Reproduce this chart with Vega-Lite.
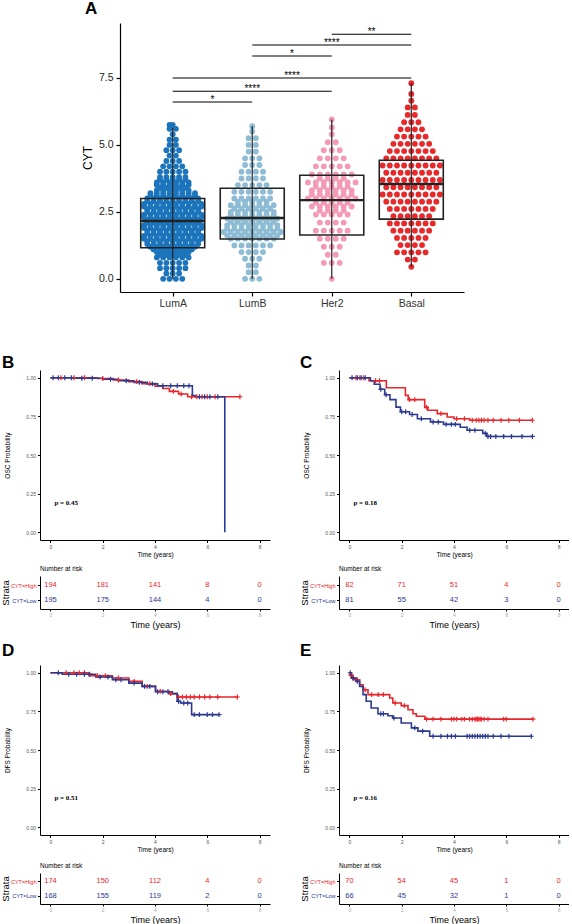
{
"$schema":"https://vega.github.io/schema/vega-lite/v6.json",
"background":"white",
"autosize":{"type":"pad"},
"padding":{"left":0,"top":0,"right":0,"bottom":0},
"config":{"view":{"stroke":null},"font":"Liberation Sans",
 "axis":{"grid":false,"domainColor":"#000","tickColor":"#000","titleColor":"#000","titleFontWeight":"normal","labelFont":"Liberation Sans","titleFont":"Liberation Sans"},
 "title":{"font":"Liberation Sans","color":"#000"}},
"datasets":{
"swarm":[
{"g":"LumA","y":0,"x":[0.88,0.96,1.04,1.12]},
{"g":"LumA","y":0.2,"x":[0.92,1,1.08]},
{"g":"LumA","y":0.4,"x":[0.84,0.92,1,1.08,1.16]},
{"g":"LumA","y":0.6,"x":[0.84,0.92,1,1.08,1.16]},
{"g":"LumA","y":0.8,"x":[0.8,0.88,0.96,1.04,1.12,1.2]},
{"g":"LumA","y":0.9,"x":[0.84,0.92,1,1.08,1.16]},
{"g":"LumA","y":1.0,"x":[0.8,0.88,0.96,1.04,1.12,1.2]},
{"g":"LumA","y":1.1,"x":[0.76,0.84,0.92,1,1.08,1.16,1.24]},
{"g":"LumA","y":1.2,"x":[0.72,0.8,0.88,0.96,1.04,1.12,1.2,1.28]},
{"g":"LumA","y":1.3,"x":[0.68,0.76,0.84,0.92,1,1.08,1.16,1.24,1.32]},
{"g":"LumA","y":1.4,"x":[0.68,0.76,0.84,0.92,1,1.08,1.16,1.24,1.32]},
{"g":"LumA","y":1.5,"x":[0.64,0.72,0.8,0.88,0.96,1.04,1.12,1.2,1.28,1.36]},
{"g":"LumA","y":1.6,"x":[0.64,0.72,0.8,0.88,0.96,1.04,1.12,1.2,1.28,1.36]},
{"g":"LumA","y":1.7,"x":[0.68,0.76,0.84,0.92,1,1.08,1.16,1.24,1.32]},
{"g":"LumA","y":1.8,"x":[0.68,0.76,0.84,0.92,1,1.08,1.16,1.24,1.32]},
{"g":"LumA","y":1.9,"x":[0.64,0.72,0.8,0.88,0.96,1.04,1.12,1.2,1.28,1.36]},
{"g":"LumA","y":2.0,"x":[0.64,0.72,0.8,0.88,0.96,1.04,1.12,1.2,1.28,1.36]},
{"g":"LumA","y":2.1,"x":[0.68,0.76,0.84,0.92,1,1.08,1.16,1.24,1.32]},
{"g":"LumA","y":2.2,"x":[0.68,0.76,0.84,0.92,1,1.08,1.16,1.24,1.32]},
{"g":"LumA","y":2.3,"x":[0.64,0.72,0.8,0.88,0.96,1.04,1.12,1.2,1.28,1.36]},
{"g":"LumA","y":2.4,"x":[0.64,0.72,0.8,0.88,0.96,1.04,1.12,1.2,1.28,1.36]},
{"g":"LumA","y":2.5,"x":[0.68,0.76,0.84,0.92,1,1.08,1.16,1.24,1.32]},
{"g":"LumA","y":2.6,"x":[0.68,0.76,0.84,0.92,1,1.08,1.16,1.24,1.32]},
{"g":"LumA","y":2.7,"x":[0.64,0.72,0.8,0.88,0.96,1.04,1.12,1.2,1.28,1.36]},
{"g":"LumA","y":2.8,"x":[0.64,0.72,0.8,0.88,0.96,1.04,1.12,1.2,1.28,1.36]},
{"g":"LumA","y":2.9,"x":[0.68,0.76,0.84,0.92,1,1.08,1.16,1.24,1.32]},
{"g":"LumA","y":3.0,"x":[0.68,0.76,0.84,0.92,1,1.08,1.16,1.24,1.32]},
{"g":"LumA","y":3.1,"x":[0.72,0.8,0.88,0.96,1.04,1.12,1.2,1.28]},
{"g":"LumA","y":3.2,"x":[0.72,0.8,0.88,0.96,1.04,1.12,1.2,1.28]},
{"g":"LumA","y":3.3,"x":[0.8,0.88,0.96,1.04,1.12,1.2]},
{"g":"LumA","y":3.4,"x":[0.84,0.92,1,1.08,1.16]},
{"g":"LumA","y":3.5,"x":[0.8,0.88,0.96,1.04,1.12,1.2]},
{"g":"LumA","y":3.6,"x":[0.8,0.88,0.96,1.04,1.12,1.2]},
{"g":"LumA","y":3.7,"x":[0.84,0.92,1,1.08,1.16]},
{"g":"LumA","y":3.8,"x":[0.84,0.92,1,1.08,1.16]},
{"g":"LumA","y":4.0,"x":[0.84,0.92,1,1.08,1.16]},
{"g":"LumA","y":4.2,"x":[0.88,0.96,1.04,1.12]},
{"g":"LumA","y":4.4,"x":[0.92,1,1.08]},
{"g":"LumA","y":4.6,"x":[0.96,1.04]},
{"g":"LumA","y":4.8,"x":[0.92,1,1.08]},
{"g":"LumA","y":5.0,"x":[0.96,1.04]},
{"g":"LumA","y":5.2,"x":[0.96,1.04]},
{"g":"LumA","y":5.4,"x":[1]},
{"g":"LumA","y":5.6,"x":[0.96,1.04]},
{"g":"LumA","y":5.75,"x":[0.96,1.0]},
{"g":"LumB","y":0,"x":[1.91,2,2.09]},
{"g":"LumB","y":0.25,"x":[1.955,2.045]},
{"g":"LumB","y":0.5,"x":[1.955,2.045]},
{"g":"LumB","y":0.75,"x":[1.91,2,2.09]},
{"g":"LumB","y":1.0,"x":[1.865,1.955,2.045,2.135]},
{"g":"LumB","y":1.25,"x":[1.775,1.865,1.955,2.045,2.135,2.225]},
{"g":"LumB","y":1.5,"x":[1.73,1.82,1.91,2,2.09,2.18,2.27]},
{"g":"LumB","y":1.625,"x":[1.685,1.775,1.865,1.955,2.045,2.135,2.225,2.315]},
{"g":"LumB","y":1.75,"x":[1.64,1.73,1.82,1.91,2,2.09,2.18,2.27,2.36]},
{"g":"LumB","y":1.875,"x":[1.685,1.775,1.865,1.955,2.045,2.135,2.225,2.315]},
{"g":"LumB","y":2.0,"x":[1.685,1.775,1.865,1.955,2.045,2.135,2.225,2.315]},
{"g":"LumB","y":2.125,"x":[1.73,1.82,1.91,2,2.09,2.18,2.27]},
{"g":"LumB","y":2.25,"x":[1.685,1.775,1.865,1.955,2.045,2.135,2.225,2.315]},
{"g":"LumB","y":2.375,"x":[1.73,1.82,1.91,2,2.09,2.18,2.27]},
{"g":"LumB","y":2.5,"x":[1.73,1.82,1.91,2,2.09,2.18,2.27]},
{"g":"LumB","y":2.625,"x":[1.775,1.865,1.955,2.045,2.135,2.225]},
{"g":"LumB","y":2.75,"x":[1.73,1.82,1.91,2,2.09,2.18,2.27]},
{"g":"LumB","y":2.875,"x":[1.82,1.91,2,2.09,2.18]},
{"g":"LumB","y":3.0,"x":[1.775,1.865,1.955,2.045,2.135,2.225]},
{"g":"LumB","y":3.25,"x":[1.775,1.865,1.955,2.045,2.135,2.225]},
{"g":"LumB","y":3.5,"x":[1.82,1.91,2,2.09,2.18]},
{"g":"LumB","y":3.75,"x":[1.865,1.955,2.045,2.135]},
{"g":"LumB","y":4.0,"x":[1.865,1.955,2.045,2.135]},
{"g":"LumB","y":4.25,"x":[1.91,2,2.09]},
{"g":"LumB","y":4.5,"x":[1.91,2,2.09]},
{"g":"LumB","y":4.75,"x":[1.955,2.045]},
{"g":"LumB","y":5.0,"x":[1.955,2.045]},
{"g":"LumB","y":5.25,"x":[1.955,2.045]},
{"g":"LumB","y":5.5,"x":[2]},
{"g":"LumB","y":5.7,"x":[2]},
{"g":"Her2","y":0,"x":[3]},
{"g":"Her2","y":0.6,"x":[2.9,3,3.1]},
{"g":"Her2","y":0.9,"x":[2.95,3.05]},
{"g":"Her2","y":1.2,"x":[2.9,3,3.1]},
{"g":"Her2","y":1.5,"x":[2.85,2.95,3.05,3.15]},
{"g":"Her2","y":1.8,"x":[2.8,2.9,3,3.1,3.2]},
{"g":"Her2","y":2.1,"x":[2.85,2.95,3.05,3.15]},
{"g":"Her2","y":2.4,"x":[2.8,2.9,3,3.1,3.2]},
{"g":"Her2","y":2.55,"x":[2.85,2.95,3.05,3.15]},
{"g":"Her2","y":2.7,"x":[2.75,2.85,2.95,3.05,3.15,3.25]},
{"g":"Her2","y":2.85,"x":[2.8,2.9,3,3.1,3.2]},
{"g":"Her2","y":3.0,"x":[2.7,2.8,2.9,3,3.1,3.2,3.3]},
{"g":"Her2","y":3.15,"x":[2.75,2.85,2.95,3.05,3.15,3.25]},
{"g":"Her2","y":3.3,"x":[2.75,2.85,2.95,3.05,3.15,3.25]},
{"g":"Her2","y":3.45,"x":[2.8,2.9,3,3.1,3.2]},
{"g":"Her2","y":3.6,"x":[2.7,2.8,2.9,3,3.1,3.2,3.3]},
{"g":"Her2","y":3.75,"x":[2.85,2.95,3.05,3.15]},
{"g":"Her2","y":3.9,"x":[2.75,2.85,2.95,3.05,3.15,3.25]},
{"g":"Her2","y":4.2,"x":[2.8,2.9,3,3.1,3.2]},
{"g":"Her2","y":4.5,"x":[2.85,2.95,3.05,3.15]},
{"g":"Her2","y":4.8,"x":[2.9,3,3.1]},
{"g":"Her2","y":5.1,"x":[2.95,3.05]},
{"g":"Her2","y":5.4,"x":[3]},
{"g":"Her2","y":5.65,"x":[3]},
{"g":"Her2","y":5.95,"x":[3]},
{"g":"Basal","y":0.45,"x":[4]},
{"g":"Basal","y":0.72,"x":[3.955,4.045]},
{"g":"Basal","y":0.99,"x":[3.82,3.91,4,4.09,4.18]},
{"g":"Basal","y":1.26,"x":[3.865,3.955,4.045,4.135]},
{"g":"Basal","y":1.53,"x":[3.82,3.91,4,4.09,4.18]},
{"g":"Basal","y":1.8,"x":[3.775,3.865,3.955,4.045,4.135,4.225]},
{"g":"Basal","y":2.07,"x":[3.73,3.82,3.91,4,4.09,4.18,4.27]},
{"g":"Basal","y":2.34,"x":[3.775,3.865,3.955,4.045,4.135,4.225]},
{"g":"Basal","y":2.61,"x":[3.73,3.82,3.91,4,4.09,4.18,4.27]},
{"g":"Basal","y":2.88,"x":[3.685,3.775,3.865,3.955,4.045,4.135,4.225,4.315]},
{"g":"Basal","y":3.15,"x":[3.64,3.73,3.82,3.91,4,4.09,4.18,4.27,4.36]},
{"g":"Basal","y":3.42,"x":[3.685,3.775,3.865,3.955,4.045,4.135,4.225,4.315]},
{"g":"Basal","y":3.69,"x":[3.64,3.73,3.82,3.91,4,4.09,4.18,4.27,4.36]},
{"g":"Basal","y":3.96,"x":[3.685,3.775,3.865,3.955,4.045,4.135,4.225,4.315]},
{"g":"Basal","y":4.23,"x":[3.64,3.73,3.82,3.91,4,4.09,4.18,4.27,4.36]},
{"g":"Basal","y":4.5,"x":[3.685,3.775,3.865,3.955,4.045,4.135,4.225,4.315]},
{"g":"Basal","y":4.77,"x":[3.73,3.82,3.91,4,4.09,4.18,4.27]},
{"g":"Basal","y":5.04,"x":[3.775,3.865,3.955,4.045,4.135,4.225]},
{"g":"Basal","y":5.31,"x":[3.82,3.91,4,4.09,4.18]},
{"g":"Basal","y":5.58,"x":[3.865,3.955,4.045,4.135]},
{"g":"Basal","y":5.85,"x":[3.91,4,4.09]},
{"g":"Basal","y":6.12,"x":[3.955,4.045]},
{"g":"Basal","y":6.4,"x":[3.955,4.045]},
{"g":"Basal","y":6.65,"x":[4]},
{"g":"Basal","y":6.9,"x":[4]},
{"g":"Basal","y":7.3,"x":[4]}
],
"box":[
{"g":"LumA","i":1,"lo":0,"q1":1.16,"med":2.16,"q3":3.0,"hi":5.65},
{"g":"LumB","i":2,"lo":0,"q1":1.49,"med":2.27,"q3":3.38,"hi":5.7},
{"g":"Her2","i":3,"lo":0,"q1":1.64,"med":2.94,"q3":3.87,"hi":5.95},
{"g":"Basal","i":4,"lo":0.45,"q1":2.23,"med":3.54,"q3":4.43,"hi":7.3}
],
"sig":[
{"x1":1,"x2":2,"xm":1.5,"y":6.6,"lab":"*"},
{"x1":1,"x2":3,"xm":2,"y":7.0,"lab":"****"},
{"x1":1,"x2":4,"xm":2.5,"y":7.5,"lab":"****"},
{"x1":2,"x2":3,"xm":2.5,"y":8.32,"lab":"*"},
{"x1":2,"x2":4,"xm":3,"y":8.73,"lab":"****"},
{"x1":3,"x2":4,"xm":3.5,"y":9.13,"lab":"**"}
],
"surv":[
{"p":"B","s":"High","t":[0,1.8,2.4,3.0,3.5,4.0,4.3,4.55,4.9,5.25,7.25],"v":[1,0.995,0.985,0.975,0.962,0.945,0.93,0.912,0.895,0.877,0.877]},
{"p":"B","s":"Low","t":[0,1.0,2.0,2.6,3.2,3.7,4.1,5.43,5.55,6.67],"v":[1,0.997,0.99,0.98,0.97,0.96,0.948,0.885,0.877,0]},
{"p":"C","s":"High","t":[0,0.75,1.41,2.14,2.25,2.88,3.0,3.36,3.74,4.0,4.6,7.0],"v":[1,0.98,0.935,0.886,0.858,0.808,0.79,0.768,0.746,0.735,0.725,0.725]},
{"p":"C","s":"Low","t":[0,0.8,0.95,1.17,1.35,1.55,1.78,1.95,2.3,2.6,3.1,3.6,4.24,4.5,5.1,5.25,7.0],"v":[1,0.98,0.958,0.925,0.89,0.858,0.81,0.78,0.762,0.735,0.714,0.698,0.68,0.66,0.64,0.62,0.62]},
{"p":"D","s":"High","t":[0,1.47,2.37,3.0,3.51,4.02,4.53,4.85,7.15],"v":[1,0.98,0.966,0.944,0.912,0.88,0.865,0.843,0.843]},
{"p":"D","s":"Low","t":[0,0.45,1.73,2.37,3.0,3.51,4.02,4.66,4.85,4.98,5.4,6.45],"v":[1,0.99,0.972,0.955,0.933,0.912,0.877,0.865,0.815,0.804,0.729,0.729]},
{"p":"E","s":"High","t":[0,0.03,0.13,0.39,0.52,0.71,1.54,1.66,1.98,2.24,2.43,2.56,2.88,7.02],"v":[1,0.985,0.955,0.922,0.89,0.858,0.836,0.804,0.787,0.76,0.735,0.718,0.7,0.7]},
{"p":"E","s":"Low","t":[0,0.07,0.26,0.39,0.52,0.64,0.83,1.09,1.47,1.66,1.98,2.37,2.62,3.07,6.96],"v":[1,0.965,0.944,0.912,0.858,0.815,0.772,0.735,0.722,0.707,0.675,0.643,0.622,0.589,0.589]}
],
"cens":[
{"p":"B","s":"High","t":[0.4,0.9,1.3,2.0,2.6,3.3,3.8,4.7,5.0,5.4,5.6,5.8,6.0,6.3,7.25],"v":[1,1,1,0.995,0.985,0.975,0.962,0.912,0.895,0.877,0.877,0.877,0.877,0.877,0.877]},
{"p":"B","s":"Low","t":[0.1,0.3,0.55,0.8,1.2,1.6,2.3,2.9,3.4,3.9,4.3,4.6,4.85,5.1,5.3,5.7,5.9,6.1,6.4],"v":[1,1,1,1,0.997,0.997,0.99,0.98,0.97,0.96,0.948,0.948,0.948,0.948,0.948,0.877,0.877,0.877,0.877]},
{"p":"C","s":"High","t":[0.25,0.4,0.55,1.0,1.15,2.3,2.5,2.95,3.5,4.1,4.4,4.7,4.85,4.95,5.05,5.15,5.3,5.5,5.8,6.1,6.5,7.0],"v":[1,1,1,0.98,0.98,0.858,0.858,0.808,0.768,0.735,0.735,0.725,0.725,0.725,0.725,0.725,0.725,0.725,0.725,0.725,0.725,0.725]},
{"p":"C","s":"Low","t":[0.1,0.3,0.45,0.6,1.2,1.4,2.0,2.15,2.4,2.75,3.2,3.4,3.7,3.9,4.05,4.6,4.8,5.2,5.3,5.4,5.6,5.9,6.2,6.6,7.0],"v":[1,1,1,1,0.925,0.89,0.78,0.78,0.762,0.735,0.714,0.714,0.698,0.698,0.698,0.66,0.66,0.64,0.62,0.62,0.62,0.62,0.62,0.62,0.62]},
{"p":"D","s":"High","t":[0.6,0.9,1.1,1.3,1.8,2.1,2.6,3.2,3.7,4.2,4.6,4.9,5.05,5.2,5.35,5.5,5.7,5.9,6.1,6.4,7.15],"v":[1,1,1,1,0.98,0.98,0.966,0.944,0.912,0.88,0.865,0.843,0.843,0.843,0.843,0.843,0.843,0.843,0.843,0.843,0.843]},
{"p":"D","s":"Low","t":[0.3,0.7,1.0,1.3,1.5,1.9,2.2,2.5,2.7,3.2,3.6,3.8,4.1,4.3,4.5,4.9,5.1,5.25,5.5,5.7,6.0,6.2,6.45],"v":[1,0.99,0.99,0.99,0.99,0.972,0.972,0.955,0.955,0.933,0.912,0.912,0.877,0.877,0.877,0.815,0.804,0.804,0.729,0.729,0.729,0.729,0.729]},
{"p":"E","s":"High","t":[0.05,0.3,0.6,0.85,1.1,1.3,1.75,2.1,2.95,3.2,3.5,3.9,4.0,4.1,4.3,4.4,4.6,4.7,4.8,4.85,4.9,4.95,5.0,5.05,5.15,5.3,5.9,6.0,7.02],"v":[0.985,0.955,0.89,0.858,0.858,0.858,0.804,0.787,0.7,0.7,0.7,0.7,0.7,0.7,0.7,0.7,0.7,0.7,0.7,0.7,0.7,0.7,0.7,0.7,0.7,0.7,0.7,0.7,0.7]},
{"p":"E","s":"Low","t":[0.03,0.15,0.3,1.2,1.3,1.7,2.5,2.8,3.2,3.5,3.75,3.9,4.05,4.5,4.6,4.7,4.8,4.9,5.0,5.1,5.2,5.3,5.5,5.8,6.1,6.96],"v":[1,0.965,0.944,0.735,0.735,0.707,0.643,0.622,0.589,0.589,0.589,0.589,0.589,0.589,0.589,0.589,0.589,0.589,0.589,0.589,0.589,0.589,0.589,0.589,0.589,0.589]}
],
"risk":[
{"p":"B","s":"CYT=High","t":[0,2,4,6,8],"n":[194,181,141,8,0]},
{"p":"B","s":"CYT=Low","t":[0,2,4,6,8],"n":[195,175,144,4,0]},
{"p":"C","s":"CYT=High","t":[0,2,4,6,8],"n":[82,71,51,4,0]},
{"p":"C","s":"CYT=Low","t":[0,2,4,6,8],"n":[81,55,42,3,0]},
{"p":"D","s":"CYT=High","t":[0,2,4,6,8],"n":[174,150,112,4,0]},
{"p":"D","s":"CYT=Low","t":[0,2,4,6,8],"n":[168,155,119,2,0]},
{"p":"E","s":"CYT=High","t":[0,2,4,6,8],"n":[70,54,45,1,0]},
{"p":"E","s":"CYT=Low","t":[0,2,4,6,8],"n":[66,45,32,1,0]}
]
},
"vconcat":[
{"hconcat":[
 {"width":41,"height":10,"data":{"values":[{}]},"mark":{"type":"text","text":""}},
 {"width":344,"height":269,
  "title":{"text":"A","anchor":"start","frame":"group","dx":-35,"offset":5,"fontSize":17,"fontWeight":"bold"},
  "layer":[
   {"data":{"name":"swarm"},"transform":[{"flatten":["x"]}],
    "mark":{"type":"circle","size":34,"opacity":1},
    "encoding":{
     "x":{"field":"x","type":"quantitative","scale":{"domain":[0.4,4.6],"nice":false,"zero":false},
      "axis":{"values":[1,2,3,4],"labelExpr":"['','LumA','LumB','Her2','Basal'][datum.value]","title":null,"labelFontSize":10.5,"labelColor":"#333","tickSize":4,"labelPadding":2,"domainWidth":1.2,"tickWidth":1.2}},
     "y":{"field":"y","type":"quantitative","scale":{"domain":[-0.49,9.55],"nice":false,"zero":false},
      "axis":{"values":[0,2.5,5,7.5],"format":".1f","title":"CYT","titleFontSize":12,"titlePadding":4,"labelFontSize":10.5,"labelColor":"#222","tickSize":4,"labelPadding":3,"domainWidth":1.2,"tickWidth":1.2}},
     "color":{"field":"g","type":"nominal","scale":{"domain":["LumA","LumB","Her2","Basal"],"range":["#1c75bc","#8dbcd4","#f59ab5","#e8292b"]},"legend":null}}},
   {"data":{"name":"box"},"mark":{"type":"rule","color":"#222","strokeWidth":1.2},
    "encoding":{"x":{"field":"i","type":"quantitative"},"y":{"field":"lo","type":"quantitative"},"y2":{"field":"hi"}}},
   {"data":{"name":"box"},"mark":{"type":"bar","width":64,"fillOpacity":0,"stroke":"#222","strokeWidth":1.6},
    "encoding":{"x":{"field":"i","type":"quantitative"},"y":{"field":"q1","type":"quantitative"},"y2":{"field":"q3"}}},
   {"data":{"name":"box"},"mark":{"type":"tick","orient":"horizontal","size":64,"thickness":2.4,"color":"#222","opacity":1},
    "encoding":{"x":{"field":"i","type":"quantitative"},"y":{"field":"med","type":"quantitative"}}},
   {"data":{"name":"sig"},"mark":{"type":"rule","color":"#000","strokeWidth":1.1},
    "encoding":{"x":{"field":"x1","type":"quantitative"},"x2":{"field":"x2"},"y":{"field":"y","type":"quantitative"}}},
   {"data":{"name":"sig"},"mark":{"type":"text","fontSize":10,"baseline":"alphabetic","dy":1,"color":"#000"},
    "encoding":{"x":{"field":"xm","type":"quantitative"},"y":{"field":"y","type":"quantitative"},"text":{"field":"lab"}}}
  ]}
 ],"spacing":0},
{"hconcat":[
 {"vconcat":[
  {"vconcat":[
   {"width":230,"height":170,
    "title":{"text":"B","anchor":"start","frame":"group","dx":-38,"dy":5,"offset":3,"fontSize":17,"fontWeight":"bold"},
    "layer":[
     {"data":{"name":"surv"},"transform":[{"filter":"datum.p=='B'"},{"flatten":["t","v"]}],
      "mark":{"type":"line","interpolate":"step-after","strokeWidth":1.6},
      "encoding":{
       "x":{"field":"t","type":"quantitative","scale":{"domain":[-0.4,8.4],"nice":false,"zero":false},"axis":{"values":[0,2,4,6,8],"title":"Time (years)","titleFontSize":6.5,"titlePadding":2,"labelFontSize":5,"labelColor":"#555","labelPadding":2,"tickSize":2.5}},
       "y":{"field":"v","type":"quantitative","scale":{"domain":[-0.05,1.05],"nice":false,"zero":false},"axis":{"values":[0,0.25,0.5,0.75,1],"format":".2f","title":"OSC Probability","titleFontSize":6.5,"titlePadding":15,"labelFontSize":5,"labelColor":"#555","labelPadding":2,"tickSize":2.5}},
       "detail":{"field":"s"},
       "color":{"condition":{"test":"datum.s=='High'","value":"#e8262b"},"value":"#2b3990"}}},
     {"data":{"name":"cens"},"transform":[{"filter":"datum.p=='B'"},{"flatten":["t","v"]}],
      "mark":{"type":"point","shape":"M-1,0H1M0,-1V1","size":24,"strokeWidth":1.2,"filled":false,"opacity":1},
      "encoding":{"x":{"field":"t","type":"quantitative"},"y":{"field":"v","type":"quantitative"},
       "color":{"condition":{"test":"datum.s=='High'","value":"#e8262b"},"value":"#2b3990"}}},
     {"data":{"values":[{}]},"mark":{"type":"text","text":"p = 0.45","align":"left","baseline":"middle","font":"Liberation Serif","fontWeight":"bold","fontSize":7},
      "encoding":{"x":{"datum":0.15},"y":{"datum":0.19}}}
    ]},
   {"width":230,"height":33,
    "title":{"text":"Number at risk","anchor":"start","frame":"group","offset":4,"fontSize":6.5,"fontWeight":"normal"},
    "data":{"name":"risk"},"transform":[{"filter":"datum.p=='B'"},{"flatten":["t","n"]}],
    "mark":{"type":"text","fontSize":7.5},
    "encoding":{
     "x":{"field":"t","type":"quantitative","scale":{"domain":[-0.4,8.4],"nice":false,"zero":false},"axis":{"values":[0,2,4,6,8],"title":"Time (years)","titleFontSize":9,"titlePadding":3,"labelFontSize":5,"labelColor":"#aaa","labelPadding":1,"tickSize":2}},
     "y":{"field":"s","type":"nominal","sort":["CYT=High","CYT=Low"],"scale":{"type":"point","padding":0.6},"axis":{"title":"Strata","titleFontSize":9.5,"titlePadding":0,"labelFontSize":5.5,"labelPadding":1.5,"tickSize":2.5,"labelColor":{"condition":{"test":"datum.value=='CYT=High'","value":"#e8262b"},"value":"#2b3990"}}},
     "text":{"field":"n","type":"quantitative"},
     "color":{"condition":{"test":"datum.s=='CYT=High'","value":"#e8262b"},"value":"#2b3990"}}}
  ],"spacing":7},
  {"vconcat":[
   {"width":230,"height":170,
    "title":{"text":"D","anchor":"start","frame":"group","dx":-38,"offset":5,"fontSize":17,"fontWeight":"bold"},
    "layer":[
     {"data":{"name":"surv"},"transform":[{"filter":"datum.p=='D'"},{"flatten":["t","v"]}],
      "mark":{"type":"line","interpolate":"step-after","strokeWidth":1.6},
      "encoding":{
       "x":{"field":"t","type":"quantitative","scale":{"domain":[-0.4,8.4],"nice":false,"zero":false},"axis":{"values":[0,2,4,6,8],"title":"Time (years)","titleFontSize":6.5,"titlePadding":2,"labelFontSize":5,"labelColor":"#555","labelPadding":2,"tickSize":2.5}},
       "y":{"field":"v","type":"quantitative","scale":{"domain":[-0.05,1.05],"nice":false,"zero":false},"axis":{"values":[0,0.25,0.5,0.75,1],"format":".2f","title":"DFS Probability","titleFontSize":6.5,"titlePadding":15,"labelFontSize":5,"labelColor":"#555","labelPadding":2,"tickSize":2.5}},
       "detail":{"field":"s"},
       "color":{"condition":{"test":"datum.s=='High'","value":"#e8262b"},"value":"#2b3990"}}},
     {"data":{"name":"cens"},"transform":[{"filter":"datum.p=='D'"},{"flatten":["t","v"]}],
      "mark":{"type":"point","shape":"M-1,0H1M0,-1V1","size":24,"strokeWidth":1.2,"filled":false,"opacity":1},
      "encoding":{"x":{"field":"t","type":"quantitative"},"y":{"field":"v","type":"quantitative"},
       "color":{"condition":{"test":"datum.s=='High'","value":"#e8262b"},"value":"#2b3990"}}},
     {"data":{"values":[{}]},"mark":{"type":"text","text":"p = 0.51","align":"left","baseline":"middle","font":"Liberation Serif","fontWeight":"bold","fontSize":7},
      "encoding":{"x":{"datum":0.15},"y":{"datum":0.19}}}
    ]},
   {"width":230,"height":31,
    "title":{"text":"Number at risk","anchor":"start","frame":"group","offset":4,"fontSize":6.5,"fontWeight":"normal"},
    "data":{"name":"risk"},"transform":[{"filter":"datum.p=='D'"},{"flatten":["t","n"]}],
    "mark":{"type":"text","fontSize":7.5},
    "encoding":{
     "x":{"field":"t","type":"quantitative","scale":{"domain":[-0.4,8.4],"nice":false,"zero":false},"axis":{"values":[0,2,4,6,8],"title":"Time (years)","titleFontSize":9,"titlePadding":3,"labelFontSize":5,"labelColor":"#aaa","labelPadding":1,"tickSize":2}},
     "y":{"field":"s","type":"nominal","sort":["CYT=High","CYT=Low"],"scale":{"type":"point","padding":0.6},"axis":{"title":"Strata","titleFontSize":9.5,"titlePadding":0,"labelFontSize":5.5,"labelPadding":1.5,"tickSize":2.5,"labelColor":{"condition":{"test":"datum.value=='CYT=High'","value":"#e8262b"},"value":"#2b3990"}}},
     "text":{"field":"n","type":"quantitative"},
     "color":{"condition":{"test":"datum.s=='CYT=High'","value":"#e8262b"},"value":"#2b3990"}}}
  ],"spacing":9}
 ],"spacing":13},
 {"vconcat":[
  {"vconcat":[
   {"width":230,"height":170,
    "title":{"text":"C","anchor":"start","frame":"group","dx":-39,"dy":5,"offset":3,"fontSize":17,"fontWeight":"bold"},
    "layer":[
     {"data":{"name":"surv"},"transform":[{"filter":"datum.p=='C'"},{"flatten":["t","v"]}],
      "mark":{"type":"line","interpolate":"step-after","strokeWidth":1.6},
      "encoding":{
       "x":{"field":"t","type":"quantitative","scale":{"domain":[-0.4,8.4],"nice":false,"zero":false},"axis":{"values":[0,2,4,6,8],"title":"Time (years)","titleFontSize":6.5,"titlePadding":2,"labelFontSize":5,"labelColor":"#555","labelPadding":2,"tickSize":2.5}},
       "y":{"field":"v","type":"quantitative","scale":{"domain":[-0.05,1.05],"nice":false,"zero":false},"axis":{"values":[0,0.25,0.5,0.75,1],"format":".2f","title":"OSC Probability","titleFontSize":6.5,"titlePadding":15,"labelFontSize":5,"labelColor":"#555","labelPadding":2,"tickSize":2.5}},
       "detail":{"field":"s"},
       "color":{"condition":{"test":"datum.s=='High'","value":"#e8262b"},"value":"#2b3990"}}},
     {"data":{"name":"cens"},"transform":[{"filter":"datum.p=='C'"},{"flatten":["t","v"]}],
      "mark":{"type":"point","shape":"M-1,0H1M0,-1V1","size":24,"strokeWidth":1.2,"filled":false,"opacity":1},
      "encoding":{"x":{"field":"t","type":"quantitative"},"y":{"field":"v","type":"quantitative"},
       "color":{"condition":{"test":"datum.s=='High'","value":"#e8262b"},"value":"#2b3990"}}},
     {"data":{"values":[{}]},"mark":{"type":"text","text":"p = 0.18","align":"left","baseline":"middle","font":"Liberation Serif","fontWeight":"bold","fontSize":7},
      "encoding":{"x":{"datum":0.15},"y":{"datum":0.19}}}
    ]},
   {"width":230,"height":33,
    "title":{"text":"Number at risk","anchor":"start","frame":"group","offset":4,"fontSize":6.5,"fontWeight":"normal"},
    "data":{"name":"risk"},"transform":[{"filter":"datum.p=='C'"},{"flatten":["t","n"]}],
    "mark":{"type":"text","fontSize":7.5},
    "encoding":{
     "x":{"field":"t","type":"quantitative","scale":{"domain":[-0.4,8.4],"nice":false,"zero":false},"axis":{"values":[0,2,4,6,8],"title":"Time (years)","titleFontSize":9,"titlePadding":3,"labelFontSize":5,"labelColor":"#aaa","labelPadding":1,"tickSize":2}},
     "y":{"field":"s","type":"nominal","sort":["CYT=High","CYT=Low"],"scale":{"type":"point","padding":0.6},"axis":{"title":"Strata","titleFontSize":9.5,"titlePadding":0,"labelFontSize":5.5,"labelPadding":1.5,"tickSize":2.5,"labelColor":{"condition":{"test":"datum.value=='CYT=High'","value":"#e8262b"},"value":"#2b3990"}}},
     "text":{"field":"n","type":"quantitative"},
     "color":{"condition":{"test":"datum.s=='CYT=High'","value":"#e8262b"},"value":"#2b3990"}}}
  ],"spacing":7},
  {"vconcat":[
   {"width":230,"height":170,
    "title":{"text":"E","anchor":"start","frame":"group","dx":-39,"offset":5,"fontSize":17,"fontWeight":"bold"},
    "layer":[
     {"data":{"name":"surv"},"transform":[{"filter":"datum.p=='E'"},{"flatten":["t","v"]}],
      "mark":{"type":"line","interpolate":"step-after","strokeWidth":1.6},
      "encoding":{
       "x":{"field":"t","type":"quantitative","scale":{"domain":[-0.4,8.4],"nice":false,"zero":false},"axis":{"values":[0,2,4,6,8],"title":"Time (years)","titleFontSize":6.5,"titlePadding":2,"labelFontSize":5,"labelColor":"#555","labelPadding":2,"tickSize":2.5}},
       "y":{"field":"v","type":"quantitative","scale":{"domain":[-0.05,1.05],"nice":false,"zero":false},"axis":{"values":[0,0.25,0.5,0.75,1],"format":".2f","title":"DFS Probability","titleFontSize":6.5,"titlePadding":15,"labelFontSize":5,"labelColor":"#555","labelPadding":2,"tickSize":2.5}},
       "detail":{"field":"s"},
       "color":{"condition":{"test":"datum.s=='High'","value":"#e8262b"},"value":"#2b3990"}}},
     {"data":{"name":"cens"},"transform":[{"filter":"datum.p=='E'"},{"flatten":["t","v"]}],
      "mark":{"type":"point","shape":"M-1,0H1M0,-1V1","size":24,"strokeWidth":1.2,"filled":false,"opacity":1},
      "encoding":{"x":{"field":"t","type":"quantitative"},"y":{"field":"v","type":"quantitative"},
       "color":{"condition":{"test":"datum.s=='High'","value":"#e8262b"},"value":"#2b3990"}}},
     {"data":{"values":[{}]},"mark":{"type":"text","text":"p = 0.16","align":"left","baseline":"middle","font":"Liberation Serif","fontWeight":"bold","fontSize":7},
      "encoding":{"x":{"datum":0.15},"y":{"datum":0.19}}}
    ]},
   {"width":230,"height":31,
    "title":{"text":"Number at risk","anchor":"start","frame":"group","offset":4,"fontSize":6.5,"fontWeight":"normal"},
    "data":{"name":"risk"},"transform":[{"filter":"datum.p=='E'"},{"flatten":["t","n"]}],
    "mark":{"type":"text","fontSize":7.5},
    "encoding":{
     "x":{"field":"t","type":"quantitative","scale":{"domain":[-0.4,8.4],"nice":false,"zero":false},"axis":{"values":[0,2,4,6,8],"title":"Time (years)","titleFontSize":9,"titlePadding":3,"labelFontSize":5,"labelColor":"#aaa","labelPadding":1,"tickSize":2}},
     "y":{"field":"s","type":"nominal","sort":["CYT=High","CYT=Low"],"scale":{"type":"point","padding":0.6},"axis":{"title":"Strata","titleFontSize":9.5,"titlePadding":0,"labelFontSize":5.5,"labelPadding":1.5,"tickSize":2.5,"labelColor":{"condition":{"test":"datum.value=='CYT=High'","value":"#e8262b"},"value":"#2b3990"}}},
     "text":{"field":"n","type":"quantitative"},
     "color":{"condition":{"test":"datum.s=='CYT=High'","value":"#e8262b"},"value":"#2b3990"}}}
  ],"spacing":9}
 ],"spacing":13}
],"spacing":29}
],
"spacing":45
}
